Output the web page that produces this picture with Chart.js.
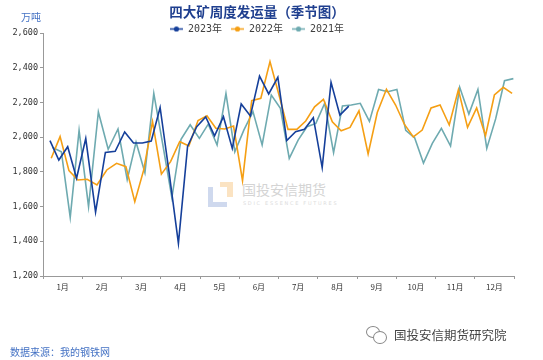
<!DOCTYPE html>
<html><head><meta charset="utf-8">
<script src="https://cdn.jsdelivr.net/npm/chart.js@4.4.0/dist/chart.umd.min.js"></script>
<style>
html,body{margin:0;padding:0;background:#fff;}
#wrap{position:relative;width:543px;height:360px;overflow:hidden;background:#fff;}
#c{position:absolute;left:0;top:0;}
.t{position:absolute;white-space:nowrap;font-family:"Noto Sans CJK SC",sans-serif;line-height:1;}
.box{position:absolute;}
</style></head><body>
<div id="wrap">
<div class="box" style="left:220px;top:182px;width:13px;height:15px;background:#fbe3c2;"></div>
<div class="box" style="left:208px;top:187px;width:19px;height:20px;background:#cfd9ee;"></div>
<div class="box" style="left:213px;top:187px;width:14px;height:15px;background:#fff;"></div>
<div class="t" style="left:242px;top:182px;font-size:14px;color:#d4d4d4;">国投安信期货</div>
<div class="t" style="left:243px;top:201px;font-size:5px;color:#dcdcdc;letter-spacing:1.7px;font-family:'DejaVu Sans',sans-serif;">SDIC ESSENCE FUTURES</div>
<canvas id="c" width="543" height="360"></canvas>
<div class="t" style="left:21px;top:12px;font-size:10px;color:#4472c4;">万吨</div>
<div class="t" style="left:10px;top:347px;font-size:10px;color:#4472c4;">数据来源：我的钢铁网</div>
<div class="box" style="left:366px;top:326px;width:12px;height:10px;border:1px solid #888;border-radius:50%;"></div>
<div class="box" style="left:373px;top:331px;width:12px;height:11px;border:1px solid #888;border-radius:50%;background:#fff;"></div>
<div class="t" style="left:394px;top:329px;font-size:12.5px;color:#444;">国投安信期货研究院</div>
</div>
<script>
const monthLabels = ['1月','2月','3月','4月','5月','6月','7月','8月','9月','10月','11月','12月'];
const seriesNames = ['2023年','2022年','2021年'];
const firstWeek2023 = '2023-01-06';
const firstWeek2022 = '2022-01-07';
const firstWeek2021 = '2021-01-08';
const v2023 = [1980,1868,1945,1763,1992,1568,1912,1918,2030,1966,1966,1978,2171,1790,1388,1947,2060,2116,2007,2118,1935,2191,2122,2352,2249,2345,1980,2031,2045,2112,1825,2316,2127,2179];
const v2022 = [1878,2003,1807,1753,1757,1724,1811,1849,1830,1628,1810,2089,1787,1859,1974,1949,2096,2123,2051,2047,2064,1749,2210,2224,2435,2240,2045,2045,2093,2175,2218,2089,2037,2056,2152,1903,2142,2276,2185,2073,2001,2041,2168,2185,2070,2273,2056,2168,2009,2243,2287,2252];
const v2021 = [1940,1916,1538,2039,1600,2145,1930,2047,1755,1971,1795,2252,1960,1652,1988,2071,1993,2075,1955,2252,1916,2040,2147,1955,2243,2166,1878,1983,2060,2079,2195,1911,2179,2185,2195,2091,2275,2262,2275,2039,1996,1851,1964,2051,1949,2287,2133,2275,1935,2105,2325,2337];
const colors = ['#153f9a','#f59f14','#6eaab0'];

function weekX(start, i){
  const d = new Date(start + 'T00:00:00Z');
  d.setUTCDate(d.getUTCDate() + 7*i);
  const m = d.getUTCMonth(), day = d.getUTCDate();
  const dim = new Date(Date.UTC(d.getUTCFullYear(), m+1, 0)).getUTCDate();
  return m + (day - 0.5)/dim;
}
function toPoints(start, vals){ return vals.map((v,i)=>({x: weekX(start,i), y: v})); }
function marker(color){
  const c = document.createElement('canvas'); c.width = 13; c.height = 7;
  const g = c.getContext('2d');
  g.strokeStyle = color; g.lineWidth = 1.5; g.beginPath(); g.moveTo(0,3.5); g.lineTo(13,3.5); g.stroke();
  g.fillStyle = color; g.beginPath(); g.arc(6.5,3.5,2.6,0,Math.PI*2); g.fill();
  return c;
}
const starts = [firstWeek2023, firstWeek2022, firstWeek2021];
const values = [v2023, v2022, v2021];
const datasets = seriesNames.map((n,k)=>({
  label: n, data: toPoints(starts[k], values[k]),
  borderColor: colors[k], backgroundColor: colors[k], borderWidth: 1.6,
  pointRadius: 0, pointHoverRadius: 0, tension: 0, fill: false,
  pointStyle: marker(colors[k])
}));

new Chart(document.getElementById('c'), {
  type: 'line',
  data: { datasets },
  options: {
    responsive: false, animation: false, devicePixelRatio: 1,
    layout: { padding: { top: 0, right: 29, bottom: 0, left: 0 } },
    plugins: {
      tooltip: { enabled: false },
      title: { display: true, text: '四大矿周度发运量（季节图）', color: '#1f3f8f',
        font: { size: 13.5, weight: 'bold', family: '"Noto Sans CJK SC", sans-serif' },
        padding: { top: 3.9, bottom: -5.1 } },
      legend: { display: true, maxHeight: 18,
        labels: { usePointStyle: true, pointStyleWidth: 13, padding: 9, color: '#404040',
          font: { size: 10, family: '"DejaVu Sans Mono", "Noto Sans CJK SC", monospace' } } }
    },
    scales: {
      x: { type: 'linear', min: 0, max: 12,
        afterBuildTicks: s => { const t = []; for (let k = 0; k <= 24; k++) t.push({ value: k/2 }); s.ticks = t; },
        ticks: { autoSkip: false, maxRotation: 0, minRotation: 0, padding: 3, color: '#333',
          font: { size: 8, family: '"Noto Sans CJK SC", sans-serif' },
          callback: v => (v % 1 === 0.5) ? monthLabels[Math.floor(v)] : '' },
        grid: { drawOnChartArea: false, tickLength: 3, lineWidth: 1,
          color: c => (c.tick && c.tick.value % 1 === 0) ? '#999' : 'rgba(0,0,0,0)' },
        border: { color: '#999', width: 1 },
        afterFit: s => { s.height = 84; } },
      y: { type: 'linear', min: 1200, max: 2600,
        ticks: { stepSize: 200, padding: 2, color: '#333',
          font: { size: 8.5, family: '"DejaVu Sans Mono", monospace' },
          callback: v => Number(v).toLocaleString('en-US') },
        grid: { drawOnChartArea: false, tickLength: 3, color: '#999' },
        border: { color: '#999', width: 1 },
        afterFit: s => { s.width = 43; } }
    }
  }
});
</script>
</body></html>
